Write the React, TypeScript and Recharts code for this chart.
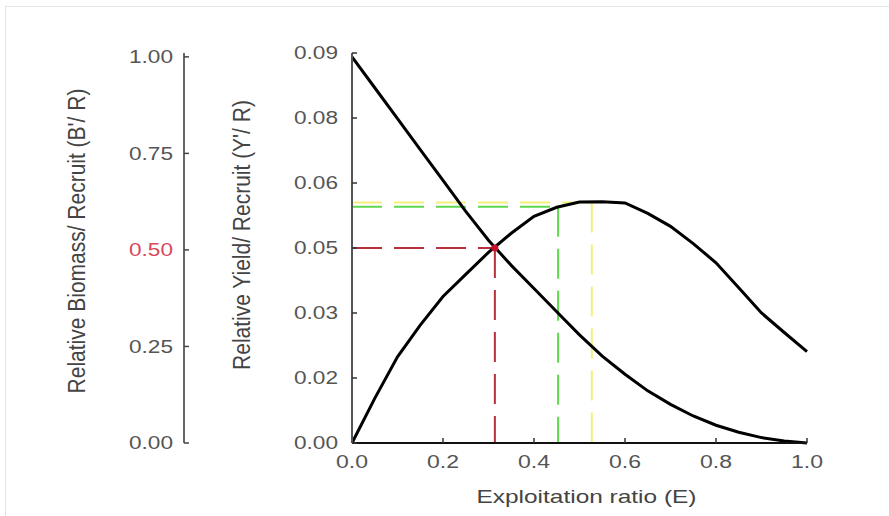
import React from 'react';
import { ComposedChart, Line, XAxis, YAxis, ReferenceLine, ReferenceDot, Label } from 'recharts';

// Exploitation ratio (E)
const exploitation = [0, 0.05, 0.1, 0.15, 0.2, 0.25, 0.3, 0.35, 0.4, 0.45, 0.5, 0.55, 0.6, 0.65, 0.7, 0.75, 0.8, 0.85, 0.9, 0.95, 1.0];
// Relative yield per recruit (Y'/R)
const yieldPerRecruit = [0, 0.0103, 0.0199, 0.0272, 0.0338, 0.0389, 0.044, 0.0484, 0.0523, 0.0544, 0.0556, 0.0557, 0.0554, 0.053, 0.05, 0.046, 0.0416, 0.0358, 0.03, 0.0255, 0.0211];
// Relative biomass per recruit (B'/R)
const biomassPerRecruit = [1.0, 0.92, 0.84, 0.76, 0.68, 0.6, 0.525, 0.46, 0.4, 0.34, 0.28, 0.225, 0.178, 0.135, 0.1, 0.07, 0.046, 0.028, 0.014, 0.005, 0.0];

const xTicks = [0, 0.2, 0.4, 0.6, 0.8, 1.0];
const xTickLabels = ['0.0', '0.2', '0.4', '0.6', '0.8', '1.0'];
const yieldTicks = [0, 0.015, 0.03, 0.045, 0.06, 0.075, 0.09];
const yieldTickLabels = ['0.00', '0.02', '0.03', '0.05', '0.06', '0.08', '0.09'];
const biomassTicks = [0, 0.25, 0.5, 0.75, 1.0];
const biomassTickLabels = ['0.00', '0.25', '0.50', '0.75', '1.00'];

// Reference points: E50, E10, Emax
const refNames = ['E50', 'E10', 'Emax'];
const refE = [0.314, 0.453, 0.527];
const refYield = [0.045, 0.0545, 0.0555];
const refColors = ['#b8303e', '#5fd84c', '#f2f07a'];

const data = exploitation.map((e, i) => ({ e, y: yieldPerRecruit[i], b: biomassPerRecruit[i] }));

const YIELD_AXIS = 'a_yield';
const BIOMASS_AXIS = 'z_biomass';

const FONT = '"Liberation Sans", Arial, Helvetica, sans-serif';
const TICK_COLOR = '#555';

const XTick = (props: any) => {
  const { x, y, payload } = props;
  const idx = xTicks.findIndex((t) => Math.abs(t - payload.value) < 1e-9);
  return (
    <text x={x} y={y} dy="0.72em" textAnchor="middle" fontFamily={FONT} fontSize={18} fill={TICK_COLOR} textLength={32} lengthAdjust="spacingAndGlyphs">
      {xTickLabels[idx]}
    </text>
  );
};

const YieldTick = (props: any) => {
  const { x, y, payload } = props;
  const idx = yieldTicks.findIndex((t) => Math.abs(t - payload.value) < 1e-9);
  return (
    <text x={x} y={y} dy="0.36em" textAnchor="end" fontFamily={FONT} fontSize={18} fill={TICK_COLOR} textLength={44} lengthAdjust="spacingAndGlyphs">
      {yieldTickLabels[idx]}
    </text>
  );
};

const BiomassTick = (props: any) => {
  const { x, y, payload } = props;
  const idx = biomassTicks.findIndex((t) => Math.abs(t - payload.value) < 1e-9);
  const fill = payload.value === 0.5 ? '#d9485c' : TICK_COLOR;
  return (
    <text x={x} y={y} dy="0.36em" textAnchor="end" fontFamily={FONT} fontSize={18} fill={fill} textLength={44} lengthAdjust="spacingAndGlyphs">
      {biomassTickLabels[idx]}
    </text>
  );
};

const makeVLabel = (text: string, dx: number, dy: number) => (props: any) => {
  const vb = props.viewBox || {};
  const cx = vb.x + dx;
  const cy = vb.y + vb.height / 2 + dy;
  return (
    <text x={0} y={0} transform={`translate(${cx}, ${cy}) scale(1.15, 1) rotate(-90)`} textAnchor="middle" dominantBaseline="central" fontFamily={FONT} fontSize={21} fill="#444">
      {text}
    </text>
  );
};

const XLabel = (props: any) => {
  const vb = props.viewBox || {};
  const cx = vb.x + vb.width / 2 + 7;
  const cy = vb.y + 53;
  return (
    <text x={cx} y={cy} textAnchor="middle" dominantBaseline="central" fontFamily={FONT} fontSize={19} fill="#444" textLength={220} lengthAdjust="spacingAndGlyphs">
      Exploitation ratio (E)
    </text>
  );
};

export default function App() {
  return (
    <div style={{ position: 'absolute', left: 0, top: 0, width: 889, height: 516, background: '#fff' }}>
      <div style={{ position: 'absolute', left: 5, top: 6, right: 0, bottom: 0, borderTop: '1px solid #e4e4e4', borderLeft: '1px solid #e4e4e4' }} />
      <ComposedChart width={889} height={516} data={data} margin={{ top: 53, right: 82, bottom: 0, left: 0 }}>
        <XAxis
          dataKey="e"
          type="number"
          domain={[0, 1]}
          ticks={xTicks}
          interval={0}
          height={73}
          axisLine={{ stroke: '#111', strokeWidth: 2 }}
          tickLine={{ stroke: '#333', strokeWidth: 1.5 }}
          tickSize={-5}
          tickMargin={17}
          tick={<XTick />}
        >
          <Label content={<XLabel />} />
        </XAxis>
        <YAxis
          yAxisId={YIELD_AXIS}
          type="number"
          domain={[0, 0.09]}
          ticks={yieldTicks}
          interval={0}
          width={168}
          axisLine={{ stroke: '#555', strokeWidth: 2 }}
          tickLine={{ stroke: '#333', strokeWidth: 1.5 }}
          tickSize={-5}
          tickMargin={19}
          tick={<YieldTick />}
        >
          <Label content={makeVLabel("Relative Yield/ Recruit (Y'/ R)", 58, -13)} />
        </YAxis>
        <YAxis
          yAxisId={BIOMASS_AXIS}
          type="number"
          domain={[0, 1.01]}
          ticks={biomassTicks}
          interval={0}
          width={184}
          axisLine={{ stroke: '#666', strokeWidth: 2 }}
          tickLine={{ stroke: '#444', strokeWidth: 1.5 }}
          tickSize={-5}
          tickMargin={16}
          tick={<BiomassTick />}
        >
          <Label content={makeVLabel("Relative Biomass/ Recruit (B'/ R)", 77, -7)} />
        </YAxis>

        {refE.map((e, i) => (
          <ReferenceLine
            key={refNames[i] + 'h'}
            yAxisId={YIELD_AXIS}
            segment={[{ x: 0, y: refYield[i] }, { x: e, y: refYield[i] }]}
            stroke={refColors[i]}
            strokeWidth={2}
            strokeDasharray="30 12"
          />
        ))}
        {refE.map((e, i) => (
          <ReferenceLine
            key={refNames[i] + 'v'}
            yAxisId={YIELD_AXIS}
            segment={[{ x: e, y: refYield[i] }, { x: e, y: 0 }]}
            stroke={refColors[i]}
            strokeWidth={2}
            strokeDasharray="30 12"
          />
        ))}

        <Line yAxisId={BIOMASS_AXIS} type="linear" dataKey="b" stroke="#000" strokeWidth={3} dot={false} isAnimationActive={false} />
        <Line yAxisId={YIELD_AXIS} type="linear" dataKey="y" stroke="#000" strokeWidth={3} dot={false} isAnimationActive={false} />
        <ReferenceDot yAxisId={YIELD_AXIS} x={refE[0]} y={refYield[0]} r={3.5} fill="#c8102e" stroke="none" />
      </ComposedChart>
    </div>
  );
}
